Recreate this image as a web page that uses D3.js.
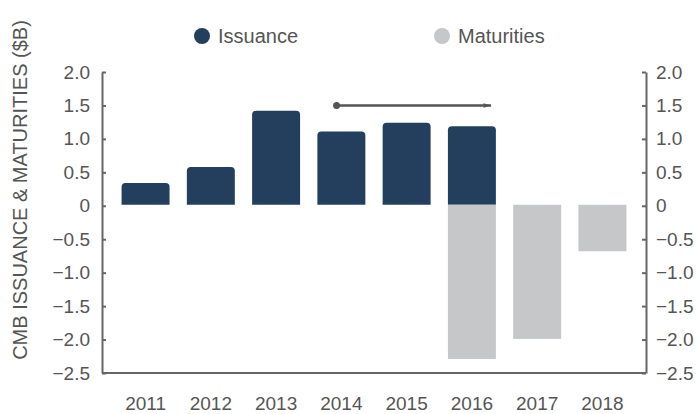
<!DOCTYPE html>
<html>
<head>
<meta charset="utf-8">
<script src="https://cdn.jsdelivr.net/npm/d3@7"></script>
<style>
body { margin: 0; background: #fff; }
text { font-family: "Liberation Sans", Arial, sans-serif; fill: #555; }
.axis path, .axis line { stroke: #666; stroke-width: 2; }
.axis text { font-size: 19px; fill: #555; font-family: "Liberation Sans", Arial, sans-serif; }
</style>
</head>
<body>
<svg width="696" height="414"></svg>
<script>
var years = ["2011", "2012", "2013", "2014", "2015", "2016", "2017", "2018"];
var issuance = [0.34, 0.58, 1.42, 1.11, 1.24, 1.19, 0, 0];
var maturities = [0, 0, 0, 0, 0, -2.29, -1.99, -0.68];
var yTicks = [2.0, 1.5, 1.0, 0.5, 0, -0.5, -1.0, -1.5, -2.0, -2.5];
var seriesNames = ["Issuance", "Maturities"];
var colors = ["#243f5e", "#c6c7c9"];

var svg = d3.select("svg");
var plotL = 102, plotR = 646, plotT = 72, plotB = 373;

var xScale = d3.scaleBand().domain(years).range([plotL, plotR])
  .paddingInner(0.265).paddingOuter(0.3);
var yScale = d3.scaleLinear().domain([-2.5, 2.0]).range([plotB, plotT]);

function fmt(d) { return d === 0 ? "0" : d3.format(".1f")(d); }

// left axis
svg.append("g").attr("class", "axis")
  .attr("transform", "translate(" + plotL + ",0)")
  .call(d3.axisLeft(yScale).tickValues(yTicks).tickFormat(fmt).tickSize(-4).tickSizeOuter(0).tickPadding(12));

// right axis
svg.append("g").attr("class", "axis")
  .attr("transform", "translate(" + plotR + ",0)")
  .call(d3.axisRight(yScale).tickValues(yTicks).tickFormat(fmt).tickSize(-4).tickSizeOuter(0).tickPadding(10));

// bottom line + year labels
svg.append("line")
  .attr("x1", plotL).attr("x2", plotR)
  .attr("y1", plotB).attr("y2", plotB)
  .attr("stroke", "#666").attr("stroke-width", 2);

svg.selectAll(".year")
  .data(years)
  .enter()
  .append("text")
  .attr("class", "year")
  .attr("x", (d) => xScale(d) + xScale.bandwidth() / 2)
  .attr("y", 410)
  .attr("text-anchor", "middle")
  .style("font-size", "19px")
  .text((d) => d);

// rounded-top bar path
function topRound(x, y0, y1, w, r) {
  var h = y1 - y0;
  if (h <= 0) return "";
  r = Math.min(r, h);
  return "M" + x + "," + y1 +
    "V" + (y0 + r) +
    "Q" + x + "," + y0 + " " + (x + r) + "," + y0 +
    "H" + (x + w - r) +
    "Q" + (x + w) + "," + y0 + " " + (x + w) + "," + (y0 + r) +
    "V" + y1 + "Z";
}

var bw = xScale.bandwidth();

svg.selectAll(".iss")
  .data(years.map((y, i) => ({ year: y, val: issuance[i] })).filter((d) => d.val > 0))
  .enter()
  .append("path")
  .attr("class", "iss")
  .attr("fill", colors[0])
  .attr("d", (d) => topRound(xScale(d.year), yScale(d.val), yScale(0) - 1, bw, 4));

svg.selectAll(".mat")
  .data(years.map((y, i) => ({ year: y, val: maturities[i] })).filter((d) => d.val < 0))
  .enter()
  .append("rect")
  .attr("class", "mat")
  .attr("fill", colors[1])
  .attr("x", (d) => xScale(d.year))
  .attr("y", yScale(0) - 1)
  .attr("width", bw)
  .attr("height", (d) => yScale(d.val) - yScale(0) + 1);

// arrow from 2014 to 2016 at 1.5
svg.append("defs").append("marker")
  .attr("id", "arrow")
  .attr("viewBox", "0 0 10 10")
  .attr("refX", 10).attr("refY", 5)
  .attr("markerWidth", 5).attr("markerHeight", 3)
  .attr("orient", "auto")
  .append("path")
  .attr("d", "M0,2 L10,5 L0,8 Z")
  .attr("fill", "#555");

var ax0 = xScale("2014") + bw * 0.4;
var ax1 = xScale("2016") + bw * 0.9;
svg.append("line")
  .attr("x1", ax0).attr("x2", ax1)
  .attr("y1", yScale(1.5)).attr("y2", yScale(1.5))
  .attr("stroke", "#555").attr("stroke-width", 2.5)
  .attr("marker-end", "url(#arrow)");
svg.append("circle")
  .attr("cx", ax0).attr("cy", yScale(1.5)).attr("r", 3.5)
  .attr("fill", "#555");

// legend
var legendX = [202, 442];
var lg = svg.selectAll(".lg")
  .data(seriesNames)
  .enter()
  .append("g")
  .attr("class", "lg")
  .attr("transform", (d, i) => "translate(" + legendX[i] + ",36)");
lg.append("circle").attr("r", 8).attr("fill", (d, i) => colors[i]);
lg.append("text")
  .attr("x", 16).attr("y", 7)
  .style("font-size", "20px")
  .text((d) => d);

// y-axis title
svg.append("text")
  .attr("transform", "translate(27,190) rotate(-90)")
  .attr("text-anchor", "middle")
  .style("font-size", "20px")
  .text("CMB ISSUANCE & MATURITIES ($B)");
</script>
</body>
</html>
